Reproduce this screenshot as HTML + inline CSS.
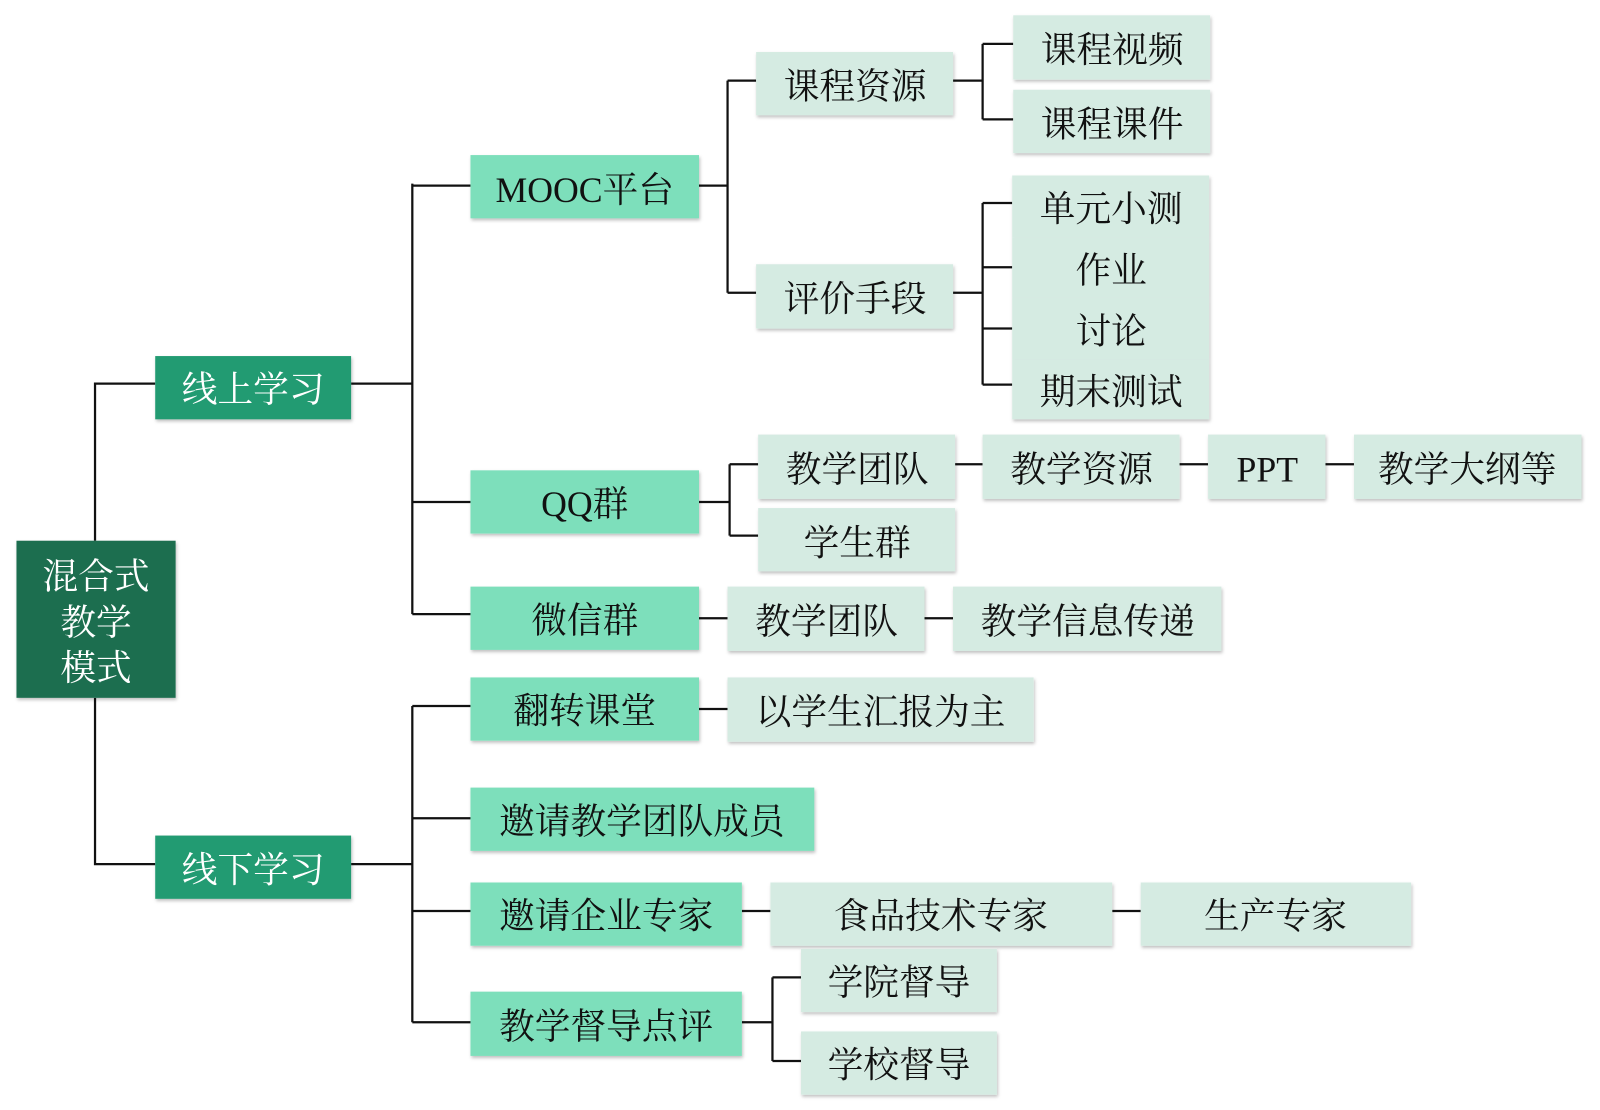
<!DOCTYPE html>
<html><head><meta charset="utf-8"><style>
html,body{margin:0;padding:0;background:#fff;}
svg{display:block;}
text{font-family:"Liberation Serif","Noto Serif CJK SC",serif;font-size:35px;text-anchor:middle;dominant-baseline:central;}
.l0 text,.t0{fill:#fff;}
</style></head><body>
<svg width="1600" height="1110" viewBox="0 0 1568 1088" xmlns="http://www.w3.org/2000/svg">
<defs><filter id="sh" x="-10%" y="-10%" width="120%" height="130%"><feDropShadow dx="1" dy="2" stdDeviation="1.5" flood-color="#000" flood-opacity="0.25"/></filter></defs>
<g stroke="#111" stroke-width="2.2" fill="none">
<path d="M93 530 V376 H152 M93 684 V847 H152"/>
<path d="M344 376 H404 M404 180 V602 M404 182 H461 M404 492 H461 M404 602 H461"/>
<path d="M344 847 H404 M404 692 V1002 M404 692 H461 M404 802 H461 M404 893 H461 M404 1002 H461"/>
<path d="M685 182 H713 M713 79 V287 M713 79 H741 M713 287 H741"/>
<path d="M934 79 H963 M963 43 V117 M963 43 H993 M963 117 H993"/>
<path d="M934 287 H963 M963 199 V377 M963 199 H992 M963 262 H992 M963 322 H992 M963 377 H992"/>
<path d="M685 492 H715 M715 455 V525 M715 455 H743 M715 525 H743"/>
<path d="M936 455 H963 M1156 455 H1184 M1299 455 H1327"/>
<path d="M685 606 H713 M906 606 H934 M685 695 H713"/>
<path d="M727 893 H755 M1090 893 H1118"/>
<path d="M727 1002 H757 M757 958 V1040 M757 958 H785 M757 1040 H785"/>
</g>
<g filter="url(#sh)">
<rect x="16" y="530" width="156" height="154" fill="#1d6e4f"/>
<rect x="152" y="349" width="192" height="62" fill="#239b72"/>
<rect x="152" y="819" width="192" height="62" fill="#239b72"/>
<g fill="#7ddfbb">
<rect x="461" y="152" width="224" height="62"/>
<rect x="461" y="461" width="224" height="62"/>
<rect x="461" y="575" width="224" height="62"/>
<rect x="461" y="664" width="224" height="62"/>
<rect x="461" y="772" width="337" height="62"/>
<rect x="461" y="865" width="266" height="62"/>
<rect x="461" y="972" width="266" height="63"/>
</g>
<g fill="#d5ebe2">
<rect x="741" y="51" width="193" height="62"/>
<rect x="741" y="259" width="193" height="63"/>
<rect x="993" y="15" width="193" height="63"/>
<rect x="993" y="88" width="193" height="62"/>
<rect x="992" y="172" width="193" height="61"/>
<rect x="992" y="233" width="193" height="59"/>
<rect x="992" y="292" width="193" height="60"/>
<rect x="992" y="352" width="193" height="59"/>
<rect x="743" y="426" width="193" height="63"/>
<rect x="743" y="498" width="193" height="62"/>
<rect x="963" y="426" width="193" height="63"/>
<rect x="1184" y="426" width="115" height="63"/>
<rect x="1327" y="426" width="223" height="63"/>
<rect x="713" y="575" width="193" height="63"/>
<rect x="934" y="575" width="263" height="63"/>
<rect x="713" y="664" width="300" height="63"/>
<rect x="755" y="865" width="335" height="62"/>
<rect x="1118" y="865" width="265" height="62"/>
<rect x="785" y="930" width="192" height="62"/>
<rect x="785" y="1011" width="192" height="62"/>
</g>
</g>
<g class="t0">
<text class="t0" x="94" y="565">混合式</text>
<text class="t0" x="94" y="610">教学</text>
<text class="t0" x="94" y="655">模式</text>
<text class="t0" x="248" y="382">线上学习</text>
<text class="t0" x="248" y="853">线下学习</text>
</g>
<g fill="#111">
<text x="573" y="186">MOOC平台</text>
<text x="573" y="494">QQ群</text>
<text x="573" y="608">微信群</text>
<text x="573" y="697">翻转课堂</text>
<text x="629" y="805">邀请教学团队成员</text>
<text x="594" y="898">邀请企业专家</text>
<text x="594" y="1006">教学督导点评</text>
<text x="838" y="85">课程资源</text>
<text x="838" y="293">评价手段</text>
<text x="1090" y="49">课程视频</text>
<text x="1090" y="122">课程课件</text>
<text x="1089" y="205">单元小测</text>
<text x="1089" y="265">作业</text>
<text x="1089" y="325">讨论</text>
<text x="1089" y="384">期末测试</text>
<text x="840" y="460">教学团队</text>
<text x="840" y="532">学生群</text>
<text x="1060" y="460">教学资源</text>
<text x="1242" y="460">PPT</text>
<text x="1438" y="460">教学大纲等</text>
<text x="810" y="609">教学团队</text>
<text x="1066" y="609">教学信息传递</text>
<text x="863" y="698">以学生汇报为主</text>
<text x="922" y="898">食品技术专家</text>
<text x="1250" y="898">生产专家</text>
<text x="881" y="963">学院督导</text>
<text x="881" y="1044">学校督导</text>
</g>
</svg>
</body></html>
